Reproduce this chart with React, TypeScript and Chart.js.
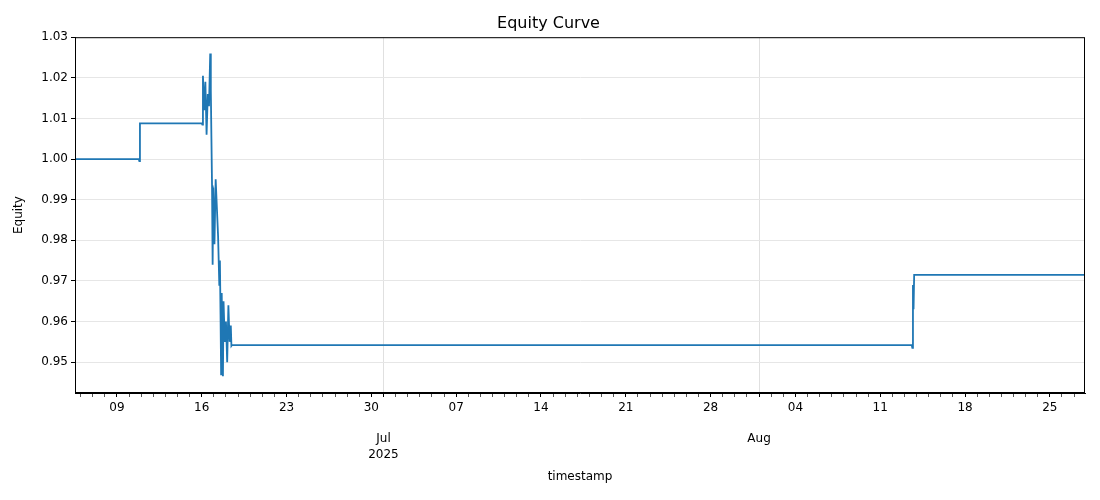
import { useEffect, useRef } from 'react';
import { Chart, registerables } from 'chart.js';

Chart.register(...registerables);

// x values are day numbers counted from May 31, 2025 (Jun 9 = 9, Jul 1 = 31, Aug 1 = 62)
const equityDays = [
  5.54, 10.8, 10.85, 10.9, 16.0, 16.05, 16.1, 16.2, 16.3, 16.4, 16.5, 16.6, 16.7, 16.75, 16.8,
  16.85, 16.9, 16.95, 17.05, 17.15, 17.25, 17.35, 17.45, 17.5, 17.55, 17.6, 17.65, 17.7, 17.75,
  17.8, 17.9, 18.0, 18.1, 18.2, 18.3, 18.4, 18.45, 18.5, 74.6, 74.65, 74.7, 74.75, 74.8, 88.9,
];
const equityValues = [
  1.0, 1.0, 0.9995, 1.0088, 1.0088, 1.0085, 1.0205, 1.012, 1.019, 1.006, 1.016, 1.013, 1.026,
  1.017, 1.005, 0.9935, 0.974, 0.993, 0.979, 0.995, 0.988, 0.981, 0.969, 0.975, 0.962, 0.947,
  0.967, 0.954, 0.9465, 0.965, 0.955, 0.96, 0.95, 0.964, 0.955, 0.959, 0.954, 0.9542, 0.9542,
  0.9535, 0.969, 0.963, 0.9715, 0.9715,
];
const weekTicks: Record<number, string> = {
  9: '09', 16: '16', 23: '23', 30: '30', 37: '07', 44: '14', 51: '21', 58: '28', 65: '04',
  72: '11', 79: '18', 86: '25',
};
const monthTicks: Record<number, string[]> = { 31: ['', '', 'Jul', '2025'], 62: ['', '', 'Aug'] };
const yTicks = [0.95, 0.96, 0.97, 0.98, 0.99, 1.0, 1.01, 1.02, 1.03];

const framePlugin = {
  id: 'frame',
  afterDraw(chart: Chart) {
    const { ctx, chartArea: a } = chart;
    ctx.save();
    ctx.strokeStyle = '#000';
    ctx.lineWidth = 1;
    ctx.strokeRect(a.left + 0.5, a.top + 0.5, a.right - a.left - 1, a.bottom - a.top - 1);
    ctx.restore();
  },
};

export default function App() {
  const ref = useRef<HTMLCanvasElement>(null);

  useEffect(() => {
    if (!ref.current) return;
    Chart.defaults.font.family = 'DejaVu Sans';
    const chart = new Chart(ref.current, {
      type: 'line',
      data: {
        datasets: [
          {
            data: equityDays.map((d, i) => ({ x: d, y: equityValues[i] })),
            borderColor: '#1f77b4',
            borderWidth: 1.8,
            pointRadius: 0,
            tension: 0,
          },
        ],
      },
      options: {
        animation: false,
        responsive: false,
        layout: { padding: { left: 12, right: 15, top: 0, bottom: 12 } },
        plugins: {
          legend: { display: false },
          tooltip: { enabled: false },
          title: {
            display: true,
            text: 'Equity Curve',
            color: '#000',
            font: { size: 16, weight: 'normal' },
            padding: { top: 14, bottom: 4 },
          },
        },
        scales: {
          x: {
            type: 'linear',
            min: 5.54,
            max: 88.9,
            afterBuildTicks: (s: any) => {
              const t = [];
              for (let d = 6; d <= 88; d++) t.push({ value: d });
              s.ticks = t;
            },
            afterFit: (s: any) => {
              s.height = 95;
            },
            ticks: {
              autoSkip: false,
              maxRotation: 0,
              color: '#000',
              font: { size: 12, lineHeight: 1.3 },
              callback: (v: any) => weekTicks[v] ?? monthTicks[v] ?? '',
            },
            grid: {
              color: (c: any) => (c.tick && monthTicks[c.tick.value] ? '#e0e0e0' : 'transparent'),
              tickColor: (c: any) =>
                c.tick && (weekTicks[c.tick.value] || monthTicks[c.tick.value]) ? '#000' : '#555',
              tickLength: 4,
            },
            border: { color: '#000' },
            title: { display: true, text: 'timestamp', color: '#000', font: { size: 12 }, padding: { top: 0 } },
          },
          y: {
            min: 0.9424,
            max: 1.03,
            afterBuildTicks: (s: any) => {
              s.ticks = yTicks.map((v) => ({ value: v }));
            },
            afterFit: (s: any) => {
              s.width = 63;
            },
            ticks: { color: '#000', font: { size: 12 }, callback: (v: any) => Number(v).toFixed(2) },
            grid: { color: '#e6e6e6', tickColor: '#000', tickLength: 4 },
            border: { color: '#000' },
            title: { display: true, text: 'Equity', color: '#000', font: { size: 12 }, padding: 0 },
          },
        },
      },
      plugins: [framePlugin],
    });
    return () => chart.destroy();
  }, []);

  return (
    <div style={{ margin: -8, width: 1100, height: 500, background: '#fff' }}>
      <canvas ref={ref} width={1100} height={500} />
    </div>
  );
}
